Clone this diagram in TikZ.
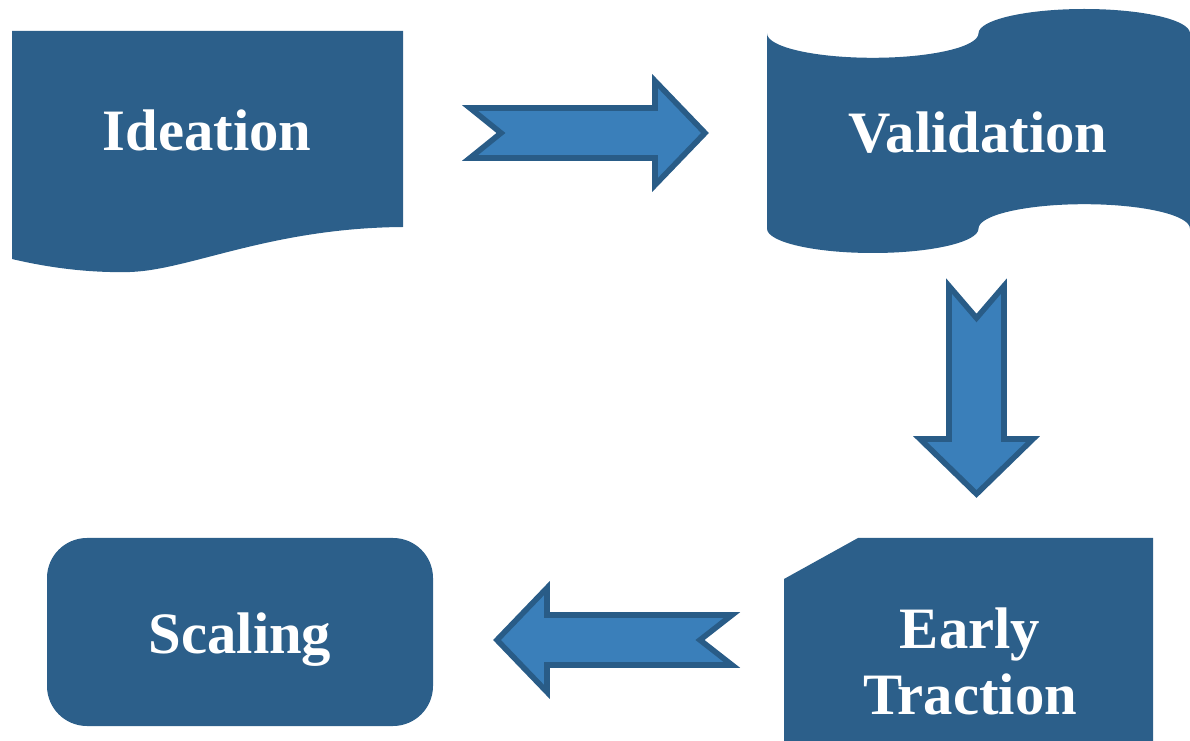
\documentclass[tikz,border=0pt]{standalone}
\usepackage{fontspec}
\setmainfont{Liberation Serif}
\definecolor{stageblue}{RGB}{44,95,138}
\definecolor{arrowblue}{RGB}{58,127,186}
\definecolor{arrowedge}{RGB}{41,92,135}
\begin{document}
\begin{tikzpicture}[x=0.75pt,y=-0.75pt,
  stage/.style={fill=stageblue,draw=none},
  blockarrow/.style={fill=arrowblue,draw=arrowedge,line width=4.2pt,line join=miter},
  stagetext/.style={text=white,font=\fontsize{44}{50}\selectfont\bfseries,anchor=base,inner sep=0pt}]
\useasboundingbox (0,0) rectangle (1190,741);

% Ideation: document shape with a wavy lower edge
\fill[stage] (12,31) -- (403,31) -- (403,227)
  .. controls (270,228) and (190,270) .. (130,272)
  .. controls (90,273) and (50,268) .. (12,259) -- cycle;
\node[stagetext] (ideation) at (207,151) {Ideation};

% Validation: punched-tape shape
\fill[stage] (767,33.4)
  .. controls (767,46.9) and (814.4,57.8) .. (872.75,57.8)
  .. controls (931.2,57.8) and (978.5,46.9) .. (978.5,33.4)
  .. controls (978.5,19.9) and (1025.9,9) .. (1084.25,9)
  .. controls (1142.6,9) and (1190,19.9) .. (1190,33.4)
  -- (1190,228.6)
  .. controls (1190,215.1) and (1142.6,204.2) .. (1084.25,204.2)
  .. controls (1025.9,204.2) and (978.5,215.1) .. (978.5,228.6)
  .. controls (978.5,242.1) and (931.2,253) .. (872.75,253)
  .. controls (814.4,253) and (767,242.1) .. (767,228.6) -- cycle;
\node[stagetext] (validation) at (978,153) {Validation};

% Early Traction: rectangle with one snipped corner
\fill[stage] (858,538) -- (1153,538) -- (1153,741) -- (784,741) -- (784,579) -- cycle;
\node[stagetext] (early) at (970,648) {Early};
\node[stagetext] (traction) at (970,715) {Traction};

% Scaling: rounded rectangle
\fill[stage,rounded corners=30pt] (47,538) rectangle (433,726);
\node[stagetext] (scaling) at (240,653) {Scaling};

% Block arrows between the stages
\draw[blockarrow] (470,108) -- (655,108) -- (655,81) -- (705,133) -- (655,185)
  -- (655,158) -- (470,158) -- (501,133) -- cycle;
\draw[blockarrow] (949,286) -- (976.5,318) -- (1004,286) -- (1004,439) -- (1033,439)
  -- (976.5,494) -- (920,439) -- (949,439) -- cycle;
\draw[blockarrow] (732,615) -- (547,615) -- (547,588) -- (497,640) -- (547,692)
  -- (547,665) -- (732,665) -- (700,640) -- cycle;
\end{tikzpicture}
\end{document}
